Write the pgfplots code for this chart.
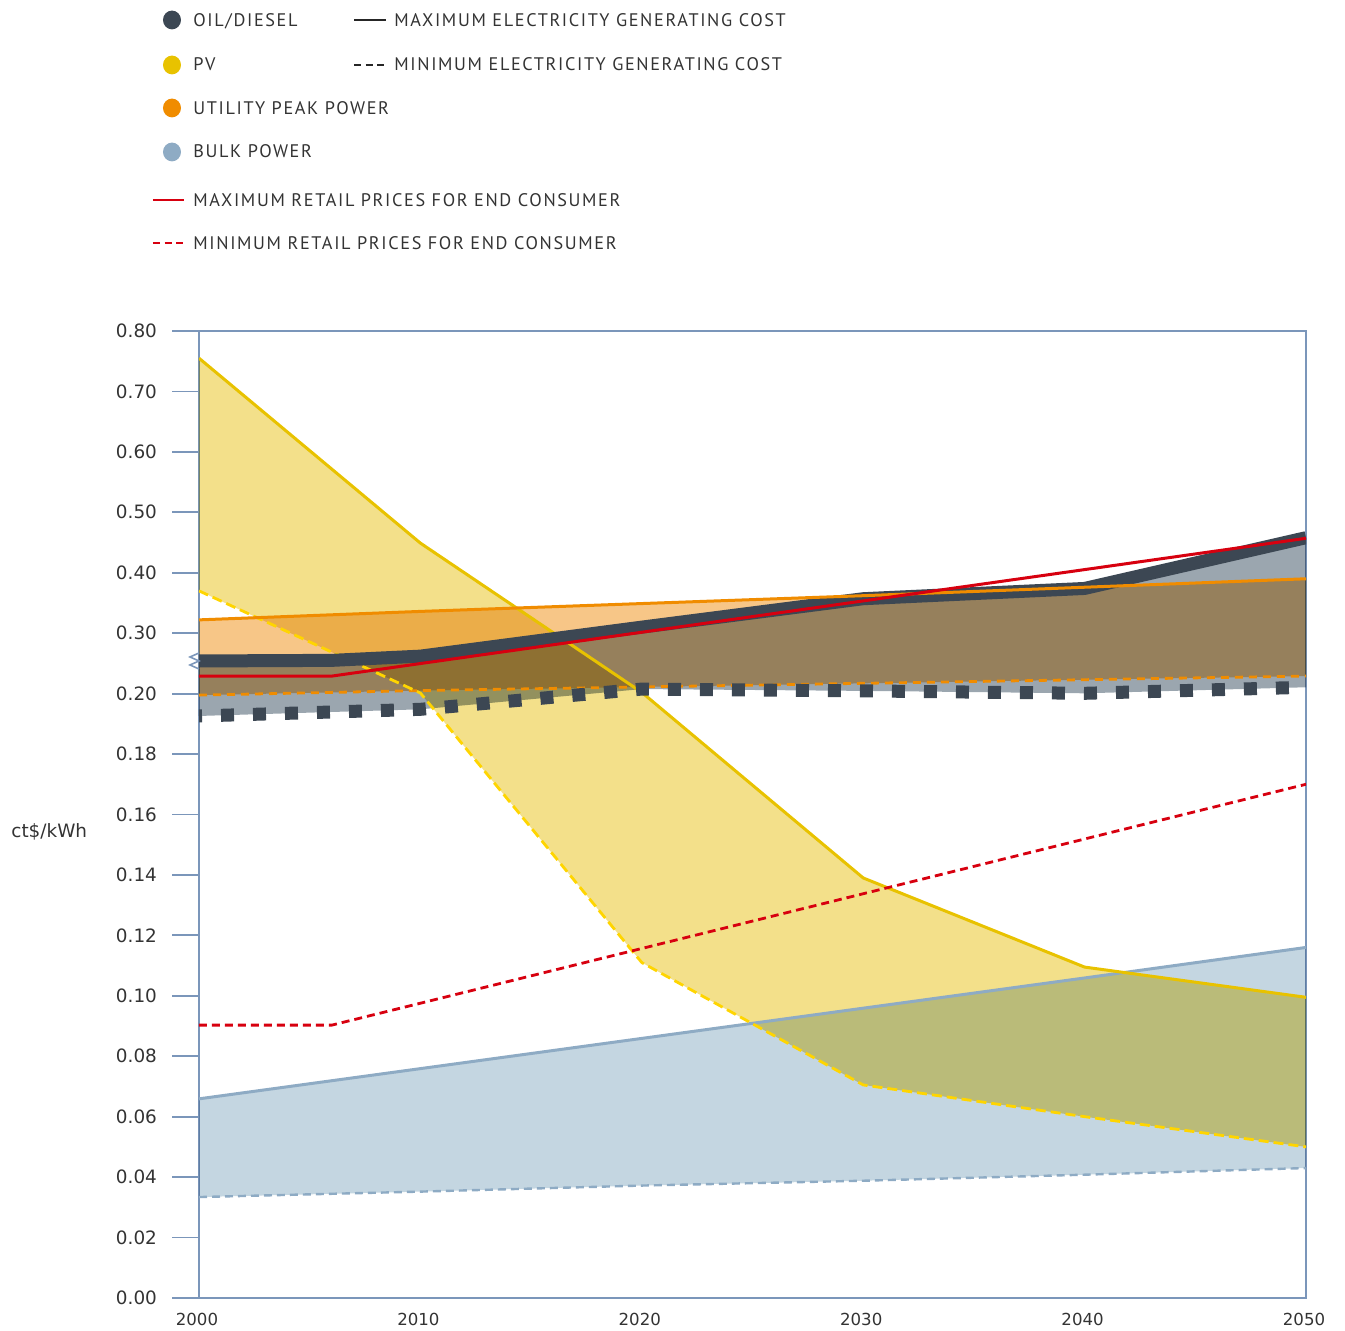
\documentclass[border=0pt]{standalone}
\usepackage{fontspec}
\setmainfont{DejaVu Sans}
\newfontfamily\legfont[LetterSpace=9]{PT Sans}
\usepackage{pgfplots}
\pgfplotsset{compat=1.18}
\usepgfplotslibrary{fillbetween}
\definecolor{axisc}{HTML}{7B96BA}
\definecolor{txt}{HTML}{333333}
\definecolor{oilc}{HTML}{3C4753}
\definecolor{oilfill}{HTML}{9BA6AF}
\definecolor{pvline}{HTML}{E8C200}
\definecolor{pvdash}{HTML}{FFD500}
\definecolor{pvfill}{HTML}{F3E08A}
\definecolor{orline}{HTML}{F08C00}
\definecolor{orfill}{HTML}{F7C687}
\definecolor{bline}{HTML}{8EABC4}
\definecolor{bfill}{HTML}{C4D6E1}
\definecolor{redc}{HTML}{D7000F}
% y values are given in axis position units of the broken scale:
% 0.00..0.20 ct$/kWh -> 0..10 (0.02 per unit), 0.20..0.80 -> 10..16 (0.10 per unit)
\begin{document}
\begin{tikzpicture}
\begin{axis}[
  at={(0pt,0pt)}, anchor=south west,
  scale only axis, width=553.5pt, height=483.5pt,
  xmin=2000, xmax=2050, ymin=0, ymax=16,
  axis line style={draw=axisc, line width=0.9pt},
  tick align=outside, major tick length=13.5pt,
  ytick pos=left, xtick pos=bottom,
  ytick={0,1,...,16},
  yticklabels={0.00,0.02,0.04,0.06,0.08,0.10,0.12,0.14,0.16,0.18,0.20,0.30,0.40,0.50,0.60,0.70,0.80},
  ytick style={draw=axisc, line width=0.9pt},
  xtick={2000,2010,...,2050},
  xtick style={draw=none},
  /pgf/number format/1000 sep={},
  /pgf/number format/assume math mode=true,
  yticklabel style={font=\fontsize{9.2}{11}\selectfont, text=txt, xshift=-4pt},
  xticklabel style={font=\fontsize{8.3}{9}\selectfont, text=txt, yshift=9.5pt, xshift=-1pt},
  clip=true,
]
% invisible named paths
\addplot[draw=none, name path=pvmax, forget plot] table {
2000 15.55
2010 12.49
2020 10.02
2030 6.95
2040 5.475
2050 4.975
};
\addplot[draw=none, name path=pvmin, forget plot] table {
2000 11.70
2010 10.01
2020 5.55
2030 3.525
2040 3.00
2050 2.50
};
\addplot[draw=none, name path=ormax, forget plot] table {
2000 11.22
2010 11.36
2020 11.49
2030 11.62
2040 11.76
2050 11.90
};
\addplot[draw=none, name path=ormin, forget plot] table {
2000 9.975
2010 10.05
2020 10.11
2030 10.17
2040 10.23
2050 10.29
};
\addplot[draw=none, name path=oilmax, forget plot] table {
2000 10.54
2006 10.55
2010 10.62
2020 11.10
2030 11.57
2040 11.74
2050 12.58
};
\addplot[draw=none, name path=oilmin, forget plot] table {
2000 9.63
2010 9.74
2020 10.075
2030 10.045
2040 10.005
2050 10.105
};
\addplot[draw=none, name path=bmax, forget plot] table {
2000 3.295
2010 3.795
2020 4.295
2030 4.795
2040 5.295
2050 5.80
};
\addplot[draw=none, name path=bmin, forget plot] table {
2000 1.67
2010 1.76
2020 1.86
2030 1.94
2040 2.04
2050 2.15
};
% fills (multiply blending)
\addplot[fill=bfill, draw=none, blend mode=multiply] fill between[of=bmax and bmin];
\addplot[fill=pvfill, draw=none, blend mode=multiply] fill between[of=pvmax and pvmin];
\addplot[fill=orfill, draw=none, blend mode=multiply] fill between[of=ormax and ormin];
\addplot[fill=oilfill, draw=none, blend mode=multiply] fill between[of=oilmax and oilmin];
% lines
\addplot[bline, line width=1.5pt] table {
2000 3.295
2010 3.795
2020 4.295
2030 4.795
2040 5.295
2050 5.80
};
\addplot[bline, line width=1.2pt, dash pattern=on 4pt off 2.5pt] table {
2000 1.67
2010 1.76
2020 1.86
2030 1.94
2040 2.04
2050 2.15
};
\addplot[orline, line width=1.4pt, dash pattern=on 4pt off 3pt] table {
2000 9.975
2010 10.05
2020 10.11
2030 10.17
2040 10.23
2050 10.29
};
\addplot[pvline, line width=1.5pt] table {
2000 15.55
2010 12.49
2020 10.02
2030 6.95
2040 5.475
2050 4.975
};
\addplot[pvdash, line width=1.4pt, dash pattern=on 5pt off 2.5pt] table {
2000 11.70
2010 10.01
2020 5.55
2030 3.525
2040 3.00
2050 2.50
};
\addplot[oilc, line width=6.5pt, dash pattern=on 6.5pt off 9.5pt, dash phase=5pt] table {
2000 9.63
2010 9.74
2020 10.075
2030 10.045
2040 10.005
2050 10.105
};
\addplot[oilc, line width=6.5pt, line join=round] table {
2000 10.54
2006 10.55
2010 10.62
2020 11.10
2030 11.57
2040 11.74
2050 12.58
};
\addplot[orline, line width=1.5pt] table {
2000 11.22
2010 11.36
2020 11.49
2030 11.62
2040 11.76
2050 11.90
};
\addplot[redc, line width=1.5pt] table {
2000 10.29
2006 10.29
2050 12.57
};
\addplot[redc, line width=1.4pt, dash pattern=on 4pt off 2.5pt] table {
2000 4.515
2006 4.515
2050 8.50
};
\end{axis}
\pgfresetboundingbox
\path[use as bounding box] (-99.5pt,-16.5pt) rectangle (573pt,649pt);
% axis break marker
\draw[axisc, line width=0.8pt] (0pt,322.5pt) -- (-4.5pt,320.5pt) -- (0pt,318.5pt) -- (-4.5pt,316.5pt) -- (0pt,314.5pt);
% y label
\node[anchor=west, inner sep=0pt, text=txt, font=\fontsize{9.2}{11}\selectfont] at (-94pt,233pt) {ct\$/kWh};
% legend
\begin{scope}[every node/.style={anchor=base west, inner sep=0pt, text=txt, font=\legfont\fontsize{9.1}{11}\selectfont}]
\fill[oilc] (-13.5pt,639pt) ellipse (4.5pt and 4.7pt);
\node at (-3pt,635.5pt) {OIL/DIESEL};
\fill[pvline] (-13.5pt,616.5pt) ellipse (4.5pt and 4.7pt);
\node at (-3pt,613.5pt) {PV};
\fill[orline] (-13.5pt,595pt) ellipse (4.5pt and 4.7pt);
\node at (-3pt,591.7pt) {UTILITY PEAK POWER};
\fill[bline] (-13.5pt,573pt) ellipse (4.5pt and 4.7pt);
\node at (-3pt,570pt) {BULK POWER};
\draw[black!85, line width=1.3pt] (77.5pt,639pt) -- (93.5pt,639pt);
\node at (97.5pt,635.5pt) {MAXIMUM ELECTRICITY GENERATING COST};
\draw[black!85, line width=1.3pt, dash pattern=on 3.5pt off 2.3pt] (77.5pt,616.5pt) -- (93.5pt,616.5pt);
\node at (97.5pt,613.5pt) {MINIMUM ELECTRICITY GENERATING COST};
\draw[redc, line width=1.3pt] (-23pt,549pt) -- (-7.5pt,549pt);
\node at (-3pt,545.7pt) {MAXIMUM RETAIL PRICES FOR END CONSUMER};
\draw[redc, line width=1.3pt, dash pattern=on 3.5pt off 2.3pt] (-23pt,527.5pt) -- (-7.5pt,527.5pt);
\node at (-3pt,524pt) {MINIMUM RETAIL PRICES FOR END CONSUMER};
\end{scope}
\end{tikzpicture}
\end{document}
